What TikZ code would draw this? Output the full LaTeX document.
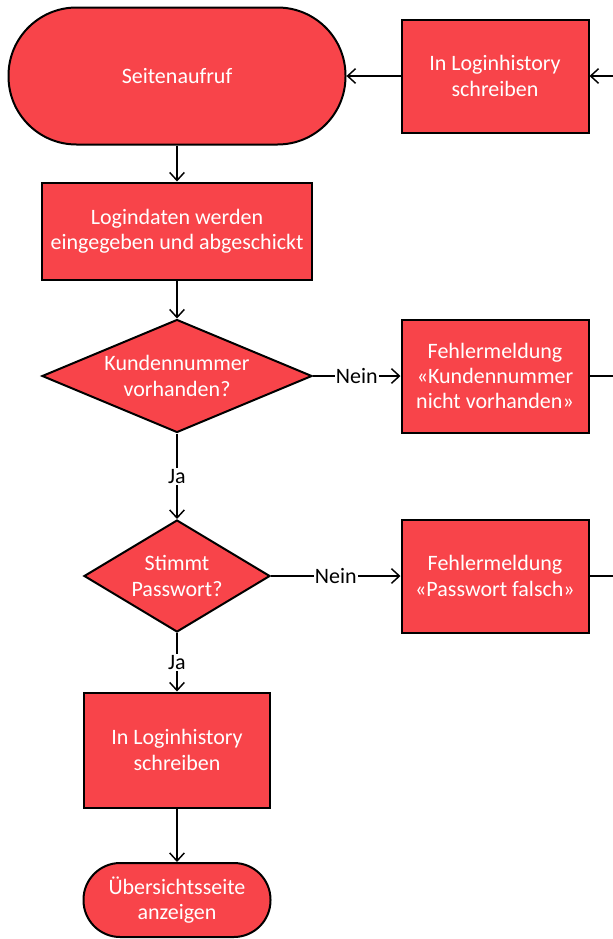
\documentclass[tikz,border=0pt]{standalone}
\usepackage{fontspec}
\setmainfont{Carlito}
\usetikzlibrary{arrows.meta,positioning,shapes.geometric}
\definecolor{flowrot}{RGB}{248,68,74}

\begin{document}
\begin{tikzpicture}[x=0.75pt,y=0.75pt,on grid,
		>={Straight Barb[length=6pt,width=11pt]},
		font=\fontsize{16.5}{19}\selectfont,
		base/.style={draw=black,line width=1.5pt,fill=flowrot,text=white,align=center,inner sep=0pt},
		terminal/.style={base,rectangle},
		process/.style={base,rectangle,minimum width=140.25pt,minimum height=84.75pt},
		decision/.style={base,diamond},
		flow/.style={->,line width=1.1pt},
		answer/.style={fill=white,text=black,inner sep=1pt}]
		\useasboundingbox (0,0) rectangle (613,-939);
		\node[terminal,minimum width=252.75pt,minimum height=102.75pt,rounded corners=51pt] (aufruf) at (177,-76) {Seitenaufruf};
		\node[process,minimum width=202.5pt,minimum height=72.75pt] (eingabe) [below=116.25pt of aufruf] {Logindaten werden\\eingegeben und abgeschickt};
		\node[decision,minimum width=202.5pt,minimum height=84.75pt,shape aspect=2.4] (kdnr) [below=108.75pt of eingabe] {Kundennummer\\vorhanden?};
		\node[decision,minimum width=139.5pt,minimum height=84pt,shape aspect=1.66] (passwort) [below=150pt of kdnr] {Stimmt\\Passwort?};
		\node[process,minimum width=139.5pt,minimum height=86.25pt] (history) [below=130.5pt of passwort] {In Loginhistory\\schreiben};
		\node[terminal,minimum width=140.25pt,minimum height=55.5pt,rounded corners=27.5pt] (uebersicht) [below=112.5pt of history] {Übersichtsseite\\anzeigen};
		\node[process] (fehlhistory) [right=238.5pt of aufruf] {In Loginhistory\\schreiben};
		\node[process] (fehlkdnr) [right=238.5pt of kdnr] {Fehlermeldung\\«Kundennummer\\nicht vorhanden»};
		\node[process] (fehlpw) [right=238.5pt of passwort] {Fehlermeldung\\«Passwort falsch»};
		\coordinate (rand) at (613,0);
		\path[flow]
			(aufruf) edge (eingabe)
			(eingabe) edge (kdnr)
			(kdnr) edge node[answer] {Ja} (passwort)
			(kdnr) edge node[answer] {Nein} (fehlkdnr)
			(passwort) edge node[answer] {Ja} (history)
			(passwort) edge node[answer] {Nein} (fehlpw)
			(history) edge (uebersicht)
			(fehlhistory) edge (aufruf);
		\draw[flow] (rand |- fehlhistory) -- (fehlhistory);
		\draw[line width=1.1pt] (fehlkdnr) -- (rand |- fehlkdnr);
		\draw[line width=1.1pt] (fehlpw) -- (rand |- fehlpw);
	\end{tikzpicture}
\end{document}
